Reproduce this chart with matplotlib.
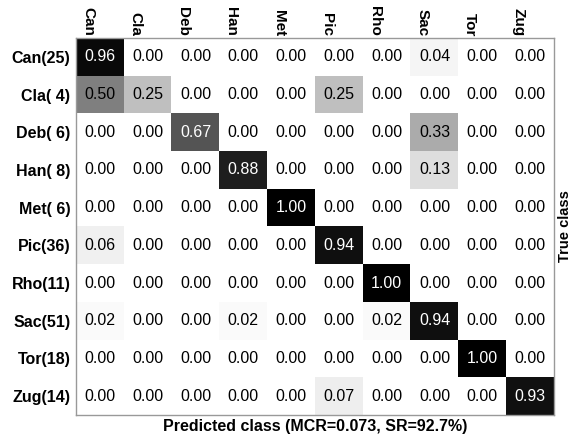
import matplotlib.pyplot as plt
import matplotlib.transforms as mtransforms
import numpy as np

plt.rcParams['font.family'] = ['Liberation Sans', 'DejaVu Sans']

classes = ['Can', 'Cla', 'Deb', 'Han', 'Met', 'Pic', 'Rho', 'Sac', 'Tor', 'Zug']
counts = [25, 4, 6, 8, 6, 36, 11, 51, 18, 14]
conf = np.array([
    [0.96, 0.00, 0.00, 0.00, 0.00, 0.00, 0.00, 0.04, 0.00, 0.00],
    [0.50, 0.25, 0.00, 0.00, 0.00, 0.25, 0.00, 0.00, 0.00, 0.00],
    [0.00, 0.00, 0.67, 0.00, 0.00, 0.00, 0.00, 0.33, 0.00, 0.00],
    [0.00, 0.00, 0.00, 0.88, 0.00, 0.00, 0.00, 0.13, 0.00, 0.00],
    [0.00, 0.00, 0.00, 0.00, 1.00, 0.00, 0.00, 0.00, 0.00, 0.00],
    [0.06, 0.00, 0.00, 0.00, 0.00, 0.94, 0.00, 0.00, 0.00, 0.00],
    [0.00, 0.00, 0.00, 0.00, 0.00, 0.00, 1.00, 0.00, 0.00, 0.00],
    [0.02, 0.00, 0.00, 0.02, 0.00, 0.00, 0.02, 0.94, 0.00, 0.00],
    [0.00, 0.00, 0.00, 0.00, 0.00, 0.00, 0.00, 0.00, 1.00, 0.00],
    [0.00, 0.00, 0.00, 0.00, 0.00, 0.07, 0.00, 0.00, 0.00, 0.93],
])
mcr = 0.073
sr = 92.7

W, H = 574, 441
fig = plt.figure(figsize=(W / 100, H / 100), dpi=100)
ax = fig.add_axes([76 / W, 1 - 415 / H, (554 - 76) / W, (415 - 38) / H])

ax.imshow(conf, cmap='gray_r', vmin=0, vmax=1, aspect='auto', interpolation='nearest')

n = len(classes)
for i in range(n):
    for j in range(n):
        v = conf[i, j]
        ax.text(j, i, '%.2f' % v, ha='center', va='center', fontsize=11.5,
                color='white' if v > 0.5 else 'black')

# column names above the matrix, rotated and shifted a bit left of centre
ax.set_xticks([])
top = mtransforms.blended_transform_factory(ax.transData, ax.transAxes)
off = mtransforms.offset_copy(top, fig=fig, x=-12, y=2, units='dots')
for j, c in enumerate(classes):
    ax.text(j, 1.0, c, transform=off, rotation=-90, ha='center', va='bottom',
            fontsize=11, fontweight='bold')

ax.set_yticks(range(n))
ax.set_yticklabels(['%s(%2d)' % (c, k) for c, k in zip(classes, counts)],
                   fontweight='bold', fontsize=11.5)
ax.tick_params(length=0, pad=4)

for s in ax.spines.values():
    s.set_color('#999999')
    s.set_linewidth(1.0)

ax.set_xlabel('Predicted class (MCR=%.3f, SR=%.1f%%)' % (mcr, sr),
              fontweight='bold', fontsize=11.5, labelpad=3)
ax.yaxis.set_label_position('right')
ax.set_ylabel('True class', fontweight='bold', fontsize=10.5, rotation=90, labelpad=3)

fig.savefig('out.png', dpi=100)
